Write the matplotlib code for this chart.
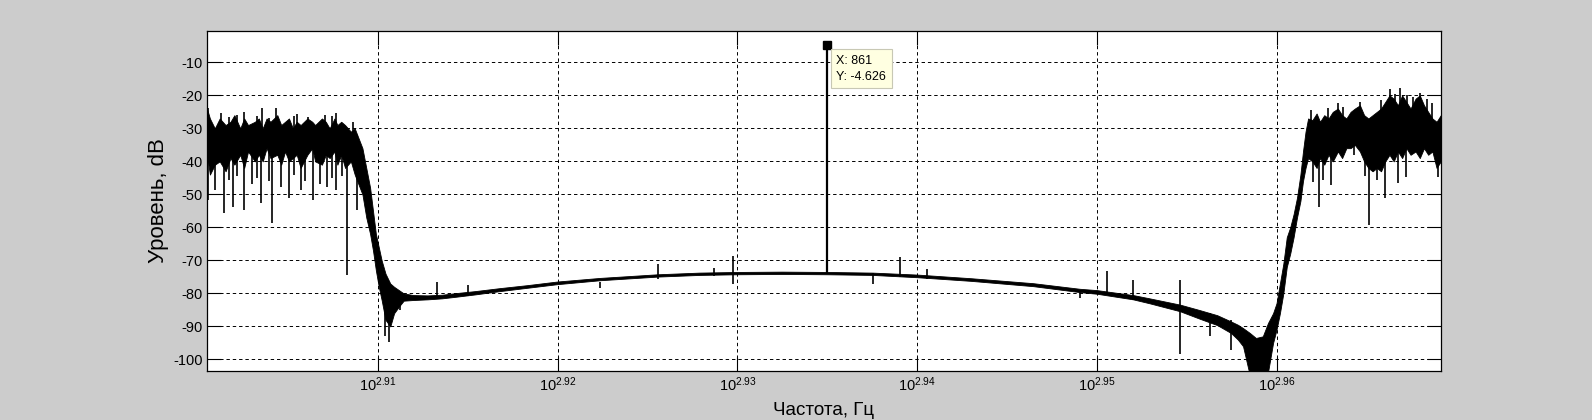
import numpy as np
import matplotlib
matplotlib.use('Agg')
import matplotlib.pyplot as plt
from matplotlib.ticker import FixedLocator, NullLocator

plt.rcParams['font.family'] = ['Liberation Sans', 'DejaVu Sans']
plt.rcParams['mathtext.fontset'] = 'custom'
plt.rcParams['mathtext.rm'] = 'Liberation Sans'
plt.rcParams['mathtext.it'] = 'Liberation Sans'

# spectrum envelope: frequency (Hz), upper and lower level (dB)
env_freq = [795.2, 795.5, 796.0, 796.5, 797.1, 797.6, 798.0, 798.6, 799.0, 799.4,
            800.1, 800.5, 800.9, 801.3, 801.7, 802.4, 802.8, 803.2, 803.6, 804.0,
            804.4, 804.8, 805.5, 806.0, 806.3, 807.0, 807.4, 807.8, 808.3, 808.6,
            809.0, 809.4, 810.0, 810.4, 810.8, 811.2, 811.6, 812.0, 812.3, 812.6,
            812.9, 813.2, 813.6, 814.1, 814.5, 815.0, 815.5, 816.5, 818.0, 819.5,
            821.0, 823.0, 825.6, 828.5, 831.7, 836.3, 842.5, 847.0, 851.1, 856.0,
            861.0, 866.0, 871.0, 877.0, 884.0, 889.3, 891.25, 895.4, 897.3, 900.8,
            903.0, 905.1, 906.7, 907.5, 908.1, 908.9, 909.6, 910.4, 911.0, 911.6,
            912.0, 912.4, 912.8, 913.2, 913.6, 914.0, 914.4, 914.8, 915.1, 915.4,
            915.7, 916.2, 916.7, 917.1, 917.6, 918.1, 918.6, 919.2, 919.7, 920.2,
            920.7, 921.2, 921.8, 922.3, 922.8, 923.3, 923.8, 924.3, 924.8, 925.3,
            925.8, 926.3, 926.8, 927.3, 927.8, 928.4, 928.9, 929.4, 929.9, 930.4,
            930.9, 931.4]
env_upper = [-24, -27, -30, -27, -29, -28, -26, -30, -27, -29,
             -28, -27, -30, -27, -28, -26, -29, -28, -27, -30,
             -28, -29, -27, -28, -29, -27, -28, -30, -27, -29,
             -28, -29, -31, -30, -33, -36, -42, -48, -55, -62,
             -66, -70, -74, -77, -78, -79, -80.0, -80.5, -80.6, -80.4,
             -79.9, -79.3, -78.4, -77.5, -76.4, -75.3, -74.2, -73.7, -73.5, -73.4,
             -73.5, -73.7, -74.3, -75.4, -76.9, -78.6, -79.0, -80.5, -81.5, -83.4,
             -85.0, -86.6, -88.5, -89.5, -90.5, -92.0, -93.5, -93.0, -89.0, -86.0,
             -83.0, -77.0, -71.0, -63.0, -60.0, -56.0, -51.0, -44.0, -37.0, -31.0,
             -27.0, -27.5, -25.5, -28, -26, -27, -25, -24, -26, -27,
             -25, -24, -23, -26, -27, -26, -25, -24, -22, -20,
             -21, -23, -20, -22, -24, -21, -20, -23, -25, -27,
             -28, -26]
env_lower = [-38, -44, -41, -40, -43, -39, -41, -38, -42, -37,
             -40, -38, -40, -36, -39, -38, -41, -37, -40, -39,
             -38, -42, -38, -36, -40, -41, -38, -39, -37, -41,
             -38, -42, -40, -44, -47, -50, -57, -62, -67, -73,
             -78, -82, -88, -90, -86, -84, -82.2, -82.0, -81.8, -81.5,
             -81.0, -80.3, -79.3, -78.3, -77.2, -76.0, -74.9, -74.4, -74.2, -74.1,
             -74.2, -74.4, -75.1, -76.2, -77.8, -79.6, -80.1, -81.8, -83.0, -85.4,
             -87.6, -89.6, -92.0, -94.0, -96.0, -105, -105, -105, -104, -95.0,
             -91.0, -86.0, -80.0, -72.0, -68.0, -63.0, -57.0, -52.0, -46.0, -42.0,
             -39.0, -40, -42, -39, -41, -38, -40, -37, -39, -36,
             -36, -35, -37, -40, -42, -43, -42, -43, -40, -38,
             -40, -37, -39, -36, -38, -37, -39, -36, -38, -37,
             -42, -40]

# single spikes: frequency (Hz), top and bottom level (dB)
spike_freq = [795.3, 796.0, 796.6, 796.9, 797.4, 797.9, 798.3, 799.0, 799.8, 800.3,
              800.7, 800.8, 801.5, 801.9, 802.3, 802.8, 803.6, 804.1, 804.4, 804.8,
              805.3, 805.6, 806.1, 806.8, 807.3, 807.5, 808.0, 808.5, 809.1, 809.6,
              810.2, 810.6,
              813.6, 814.0, 815.1,
              819.0, 822.2, 836.3, 842.5, 848.6, 850.7, 866.0, 869.1, 872.1,
              889.3, 892.4, 895.4, 900.8, 904.3, 906.7, 911.2,
              916.0, 916.3, 917.0, 917.5, 918.0, 918.4, 919.2, 919.8, 921.1, 921.8,
              922.4, 922.9, 923.8, 924.3, 924.8, 925.4, 925.9, 926.3, 926.6, 927.3,
              927.4, 928.1, 928.9, 929.7, 930.3, 931.1]
spike_top = [-23.9, -32, -25.4, -32, -26.5, -32, -25.8, -25.0, -32, -26.2,
             -32, -23.9, -26.8, -32, -23.9, -32, -32, -26.4, -25.7, -32,
             -32, -26.6, -32, -32, -26.0, -32, -26.3, -25.3, -32, -32,
             -28, -32,
             -80, -80, -81,
             -76.5, -77.3, -76.5, -71.2, -72.2, -68.7, -73.8, -69.0, -72.7,
             -79.0, -73.2, -76.0, -76.0, -86.0, -88.0, -90.0,
             -24.4, -30, -30, -30, -23.8, -30, -22.4, -23.5, -28, -22.1,
             -30, -30, -30, -21.5, -30, -18.1, -19.5, -30, -17.9, -30,
             -19.9, -20.5, -19.2, -21.0, -22.4, -30]
spike_bottom = [-51.7, -48.7, -35, -55.7, -45.5, -53.7, -44.5, -54.8, -47, -45.0,
                -52.7, -35, -46.0, -58.7, -35, -47.8, -51.2, -44.0, -35, -48.7,
                -46, -35, -51.7, -47, -35, -47.8, -45.0, -48.7, -44.5, -74.4,
                -35, -54.8,
                -93, -94.7, -85,
                -81.5, -80.8, -78.3, -75.5, -74.8, -77.0, -77.2, -75.0, -75.5,
                -81.3, -80.5, -82.0, -98.3, -93.0, -97.0, -100.0,
                -38, -46.2, -53.8, -45.7, -35, -47.2, -35, -35, -38, -33,
                -44.5, -59.3, -45.6, -35, -51.1, -35, -35, -46.7, -35, -44.7,
                -35, -35, -35, -35, -35, -44.7]

# data cursor
peak_freq = 861
peak_db = -4.626
peak_base = -74.0

tick_exp = ['2.91', '2.92', '2.93', '2.94', '2.95', '2.96']
y_ticks = [-100, -90, -80, -70, -60, -50, -40, -30, -20, -10]

fig = plt.figure(figsize=(15.92, 4.2), dpi=100, facecolor='#cccccc')
ax = fig.add_axes([0.13, 0.1167, 0.775, 0.8095])
ax.set_facecolor('white')

ax.fill_between(env_freq, env_upper, env_lower, color='black', linewidth=0.6, zorder=3)
ax.vlines(spike_freq, spike_bottom, spike_top, color='black', linewidth=1.2, zorder=3)
ax.vlines([peak_freq], [peak_base], [peak_db], color='black', linewidth=1.6, zorder=3)
ax.plot([peak_freq], [peak_db], marker='s', markersize=5.5, color='black', zorder=5)
ax.annotate('X: {:g}\nY: {:g}'.format(peak_freq, peak_db), xy=(peak_freq, peak_db),
            xytext=(9, -10), textcoords='offset pixels', ha='left', va='top',
            fontsize=9, linespacing=1.45, zorder=6,
            bbox=dict(boxstyle='square,pad=0.45', fc='#ffffe1', ec='#c8c8b4', lw=0.8))

ax.set_xscale('log')
ax.set_xlim(795.2, 931.4)
ax.set_ylim(-103.5, -0.5)
ax.xaxis.set_major_locator(FixedLocator([10 ** float(e) for e in tick_exp]))
ax.xaxis.set_minor_locator(NullLocator())
ax.set_xticklabels([r'$10^{' + e + '}$' for e in tick_exp])
ax.set_yticks(y_ticks)
ax.set_yticklabels([str(v) for v in y_ticks])

ax.grid(True, color='black', linestyle=(0, (3.5, 3)), linewidth=0.7, zorder=1)
ax.tick_params(direction='in', length=10, width=0.8, top=True, right=True,
               labelsize=10.5, pad=3)
for sp in ax.spines.values():
    sp.set_linewidth(0.9)

ax.set_xlabel('Частота, Гц', fontsize=13.5, labelpad=6)
ax.set_ylabel('Уровень, dB', fontsize=16, labelpad=3)

fig.savefig('out.png', dpi=100, facecolor=fig.get_facecolor())
